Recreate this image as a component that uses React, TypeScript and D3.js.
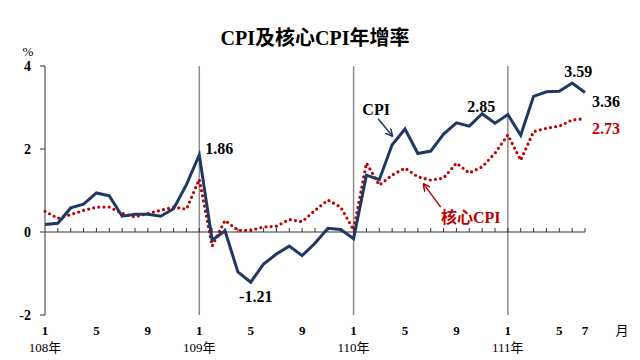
import React from 'react';
import * as d3 from 'd3';

// Jan 108 (2019) .. Jul 111 (2022), monthly
const cpi = [
  0.18, 0.21, 0.58, 0.67, 0.94, 0.87, 0.38, 0.43, 0.43, 0.38, 0.56, 1.14,
  1.86, -0.2, 0.03, -0.96, -1.21, -0.77, -0.53, -0.34, -0.57, -0.27, 0.09, 0.06,
  -0.16, 1.37, 1.26, 2.1, 2.48, 1.89, 1.95, 2.36, 2.63, 2.55, 2.85, 2.62,
  2.83, 2.33, 3.27, 3.38, 3.39, 3.59, 3.36,
];
const coreCpi = [
  0.5, 0.33, 0.42, 0.52, 0.6, 0.6, 0.45, 0.36, 0.45, 0.52, 0.6, 0.55,
  1.27, -0.34, 0.28, 0.04, 0.04, 0.12, 0.14, 0.3, 0.25, 0.52, 0.77, 0.6,
  0.05, 1.66, 1.13, 1.37, 1.54, 1.33, 1.25, 1.3, 1.66, 1.42, 1.57, 1.9,
  2.34, 1.73, 2.42, 2.5, 2.55, 2.7, 2.73,
];
const yTicks = [4, 2, 0, -2];
const monthLabels = [
  { i: 0, t: '1' }, { i: 4, t: '5' }, { i: 8, t: '9' },
  { i: 12, t: '1' }, { i: 16, t: '5' }, { i: 20, t: '9' },
  { i: 24, t: '1' }, { i: 28, t: '5' }, { i: 32, t: '9' },
  { i: 36, t: '1' }, { i: 40, t: '5' }, { i: 42, t: '7' },
];
const yearLabels = [
  { i: 0, t: '108年' }, { i: 12, t: '109年' }, { i: 24, t: '110年' }, { i: 36, t: '111年' },
];

const NAVY = '#1f3864';
const RED = '#c00000';
const SERIF = '"Liberation Serif", "Times New Roman", "Noto Sans CJK TC", serif';

export default function App() {
  const width = 640, height = 360;
  const x = d3.scaleLinear().domain([0, 42]).range([45, 585]);
  const y = d3.scaleLinear().domain([-2, 4]).range([315, 66]);

  const line = d3.line<number>().x((d, i) => x(i)).y((d) => y(d));

  const pt = (i: number, arr: number[]) => [x(i), y(arr[i])];
  const [p186x, p186y] = pt(12, cpi);
  const [p121x, p121y] = pt(16, cpi);
  const [p285x, p285y] = pt(34, cpi);
  const [p359x, p359y] = pt(41, cpi);
  const [p336x, p336y] = pt(42, cpi);
  const [p273x, p273y] = pt(42, coreCpi);
  const [cArrX, cArrY] = pt(27, cpi);
  const [kArrX, kArrY] = pt(30, coreCpi);

  const num = { fontFamily: SERIF, fontWeight: 700, fontSize: 16 } as const;

  return (
    <svg width={width} height={height} style={{ position: 'absolute', left: 0, top: 0, background: '#fff' }}>
      <defs>
        <marker id="arNavy" viewBox="0 0 10 10" refX="9" refY="5" markerWidth="5" markerHeight="5" orient="auto">
          <path d="M0,0 L10,5 L0,10" fill="none" stroke={NAVY} strokeWidth={2} />
        </marker>
        <marker id="arRed" viewBox="0 0 10 10" refX="9" refY="5" markerWidth="5" markerHeight="5" orient="auto">
          <path d="M0,0 L10,5 L0,10" fill="none" stroke={RED} strokeWidth={2} />
        </marker>
      </defs>

      <text x={315} y={45} textAnchor="middle" fontFamily={SERIF} fontWeight={700} fontSize={20}>
        CPI及核心CPI年增率
      </text>
      <text x={28} y={56} textAnchor="middle" fontFamily={SERIF} fontSize={13}>%</text>

      {/* year separators */}
      {[12, 24, 36].map((i) => (
        <line key={i} x1={x(i)} x2={x(i)} y1={y(4)} y2={y(-2)} stroke="#8c8c8c" strokeWidth={1.5} />
      ))}

      {/* y axis */}
      <line x1={x(0)} x2={x(0)} y1={y(4)} y2={y(-2)} stroke="#333" strokeWidth={1} />
      {yTicks.map((t) => (
        <g key={t}>
          <line x1={x(0) - 5} x2={x(0)} y1={y(t)} y2={y(t)} stroke="#333" />
          <text x={31} y={y(t) + 5} textAnchor="end" fontFamily={SERIF} fontWeight={700} fontSize={14}>{t}</text>
        </g>
      ))}

      {/* x axis at zero */}
      <line x1={x(0)} x2={x(42)} y1={y(0)} y2={y(0)} stroke="#333" strokeWidth={1} />
      {d3.range(1, 43).map((i) => (
        <line key={i} x1={x(i)} x2={x(i)} y1={y(0)} y2={y(0) - 4} stroke="#333" />
      ))}
      {monthLabels.map((m) => (
        <text key={m.i} x={x(m.i)} y={335} textAnchor="middle" fontFamily={SERIF} fontWeight={700} fontSize={13}>{m.t}</text>
      ))}
      <text x={622} y={335} textAnchor="middle" fontFamily={SERIF} fontSize={13}>月</text>
      {yearLabels.map((m) => (
        <text key={m.i} x={x(m.i)} y={352} textAnchor="middle" fontFamily={SERIF} fontSize={13}>{m.t}</text>
      ))}

      {/* series */}
      <path d={line(coreCpi) || ''} fill="none" stroke={RED} strokeWidth={3.2}
        strokeLinecap="round" strokeDasharray="0 5.2" />
      <path d={line(cpi) || ''} fill="none" stroke={NAVY} strokeWidth={3} strokeLinejoin="miter" />

      {/* value labels */}
      <text x={p186x + 6} y={p186y - 1} {...num}>1.86</text>
      <text x={p121x + 5} y={p121y + 20} textAnchor="middle" {...num}>-1.21</text>
      <text x={p285x - 1} y={p285y - 2} textAnchor="middle" {...num}>2.85</text>
      <text x={p359x + 6} y={p359y - 6} textAnchor="middle" {...num}>3.59</text>
      <text x={p336x + 7} y={p336y + 14} {...num}>3.36</text>
      <text x={p273x + 7} y={p273y + 15} {...num} fill={RED}>2.73</text>

      {/* CPI callout */}
      <text x={cArrX - 16} y={cArrY - 30} textAnchor="middle" {...num}>CPI</text>
      <line x1={cArrX - 14} y1={cArrY - 26} x2={cArrX} y2={cArrY - 9} stroke={NAVY} strokeWidth={1.5} markerEnd="url(#arNavy)" />

      {/* core CPI callout */}
      <text x={kArrX + 40} y={kArrY + 43} textAnchor="middle" fontFamily={SERIF} fontWeight={700} fontSize={16} fill={RED}>核心CPI</text>
      <line x1={kArrX + 10} y1={kArrY + 27} x2={kArrX - 7} y2={kArrY + 4} stroke={RED} strokeWidth={1.5} markerEnd="url(#arRed)" />
    </svg>
  );
}
